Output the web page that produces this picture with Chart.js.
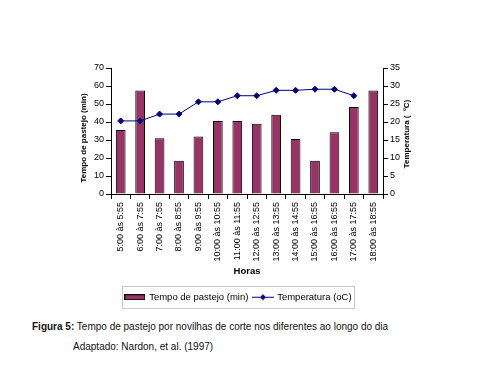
<!DOCTYPE html>
<html lang="pt">
<head>
<meta charset="UTF-8">
<title>Tempo de pastejo</title>
<script src="https://cdn.jsdelivr.net/npm/chart.js"></script>
<style>
  html, body { margin: 0; padding: 0; background: #fff; }
  body { width: 500px; height: 370px; position: relative; overflow: hidden; font-family: "Liberation Sans", Arial, sans-serif; color: #111; }
  #wrap { position: absolute; left: 0; top: 0; width: 500px; height: 315px; }
  .cap { position: absolute; font-size: 10px; line-height: 12px; white-space: nowrap; }
</style>
</head>
<body>
<div id="wrap"><canvas id="chart" width="500" height="315"></canvas></div>
<div class="cap" style="left:32px; top:321px;"><b>Figura 5:</b> Tempo de pastejo por novilhas de corte nos diferentes ao longo do dia</div>
<div class="cap" style="left:73px; top:341px;">Adaptado: Nardon, et al. (1997)</div>

<script>
// dados
const horas = ['5:00 às 5:55', '6:00 às 7:55', '7:00 às 7:55', '8:00 às 8:55', '9:00 às 9:55',
  '10:00 às 10:55', '11:00 às 11:55', '12:00 às 12:55', '13:00 às 13:55', '14:00 às 14:55',
  '15:00 às 16:55', '16:00 às 16:55', '17:00 às 17:55', '18:00 às 18:55'];
const tempoPastejo = [35.5, 57.5, 31, 18.5, 32, 40.5, 40.5, 39, 44, 30.5, 18.5, 34.3, 48.4, 57.5];
const temperatura = [20.3, 20.3, 22.2, 22.2, 25.6, 25.6, 27.3, 27.3, 28.8, 28.8, 29.1, 29.1, 27.3, null];

const BAR = '#993366', NAVY = '#000080';
const FONT = '"Liberation Sans", Arial, sans-serif';

// icones da legenda
function iconBar() {
  const c = document.createElement('canvas'); c.width = 21; c.height = 6;
  const g = c.getContext('2d');
  g.fillStyle = BAR; g.fillRect(0, 0, 21, 6);
  g.strokeStyle = '#000'; g.lineWidth = 1; g.strokeRect(0.5, 0.5, 20, 5);
  return c;
}
function iconLine() {
  const c = document.createElement('canvas'); c.width = 22; c.height = 7;
  const g = c.getContext('2d');
  g.strokeStyle = NAVY; g.lineWidth = 1;
  g.beginPath(); g.moveTo(0, 3.5); g.lineTo(22, 3.5); g.stroke();
  g.fillStyle = NAVY;
  g.beginPath(); g.moveTo(11, 0.5); g.lineTo(14, 3.5); g.lineTo(11, 6.5); g.lineTo(8, 3.5); g.closePath(); g.fill();
  return c;
}
const icons = [iconBar(), iconLine()];

const extras = {
  id: 'extras',
  afterDraw(chart) {
    const ctx = chart.ctx, a = chart.chartArea;
    ctx.save();
    ctx.fillStyle = '#000';
    ctx.font = 'bold 8px ' + FONT;
    ctx.textAlign = 'center';
    ctx.textBaseline = 'middle';
    // titulos dos eixos y (ambos lidos de baixo para cima)
    ctx.save();
    ctx.translate(84, (a.top + a.bottom) / 2 + 7);
    ctx.rotate(-Math.PI / 2);
    ctx.fillText('Tempo de pastejo (min)', 0, 0);
    ctx.restore();
    ctx.save();
    ctx.translate(407, (a.top + a.bottom) / 2 + 3);
    ctx.rotate(-Math.PI / 2);
    ctx.fillText('Temperatura (  ºC)', 0, 0);
    ctx.restore();
    // moldura da legenda
    const hb = chart.legend.legendHitBoxes;
    if (hb && hb.length) {
      const l = hb[0].left - 3;
      const last = hb[hb.length - 1];
      const r = last.left + last.width + 3;
      const t = hb[0].top - 6.5;
      const b = hb[0].top + hb[0].height + 6;
      ctx.strokeStyle = '#c8c8c8';
      ctx.lineWidth = 1;
      ctx.strokeRect(Math.round(l) + 0.5, Math.round(t) + 0.5, Math.round(r - l), Math.round(b - t));
    }
    ctx.restore();
  }
};

new Chart(document.getElementById('chart'), {
  type: 'bar',
  data: {
    labels: horas,
    datasets: [
      {
        type: 'line', label: 'Temperatura (oC)', data: temperatura, yAxisID: 'y1',
        borderColor: NAVY, backgroundColor: NAVY, borderWidth: 1,
        pointStyle: 'rectRot', pointRadius: 3, pointBackgroundColor: NAVY, pointBorderColor: NAVY,
        tension: 0, order: 1
      },
      {
        type: 'bar', label: 'Tempo de pastejo (min)', data: tempoPastejo, yAxisID: 'y',
        backgroundColor: BAR, borderColor: '#000', borderWidth: 1,
        barPercentage: 0.5, categoryPercentage: 1, order: 2
      }
    ]
  },
  options: {
    responsive: false,
    animation: false,
    events: [],
    layout: { padding: { left: 0, right: 23, top: 68, bottom: 3 } },
    plugins: {
      tooltip: { enabled: false },
      legend: {
        position: 'bottom',
        labels: {
          usePointStyle: true, pointStyleWidth: 19, boxHeight: 6, padding: 5,
          color: '#000', font: { family: FONT, size: 9.5 },
          generateLabels(chart) {
            const items = Chart.defaults.plugins.legend.labels.generateLabels(chart);
            items.forEach(it => { it.pointStyle = it.datasetIndex === 1 ? icons[0] : icons[1]; });
            return items.sort((p, q) => q.datasetIndex - p.datasetIndex);
          }
        }
      }
    },
    scales: {
      x: {
        offset: true,
        afterFit(s) { s.height = 93.5; },
        grid: { drawOnChartArea: false, tickLength: 5, color: '#000', offset: true },
        border: { color: '#000' },
        ticks: { autoSkip: false, minRotation: 90, maxRotation: 90, padding: 3, color: '#000', font: { family: FONT, size: 9 } },
        title: { display: true, text: 'Horas', color: '#000', font: { family: FONT, size: 9.5, weight: 'bold' }, padding: { top: 0, bottom: 10 } }
      },
      y: {
        position: 'left', min: 0, max: 70,
        afterFit(s) { s.width = 111; },
        grid: { drawOnChartArea: false, tickLength: 5, color: '#000' },
        border: { color: '#000' },
        ticks: { stepSize: 10, padding: 2, color: '#000', font: { family: FONT, size: 9 } }
      },
      y1: {
        position: 'right', min: 0, max: 35,
        afterFit(s) { s.width = 94; },
        grid: { drawOnChartArea: false, tickLength: 5, color: '#000' },
        border: { color: '#000' },
        ticks: { stepSize: 5, padding: 2, color: '#000', font: { family: FONT, size: 9 } }
      }
    }
  },
  plugins: [extras]
});
</script>
</body>
</html>
